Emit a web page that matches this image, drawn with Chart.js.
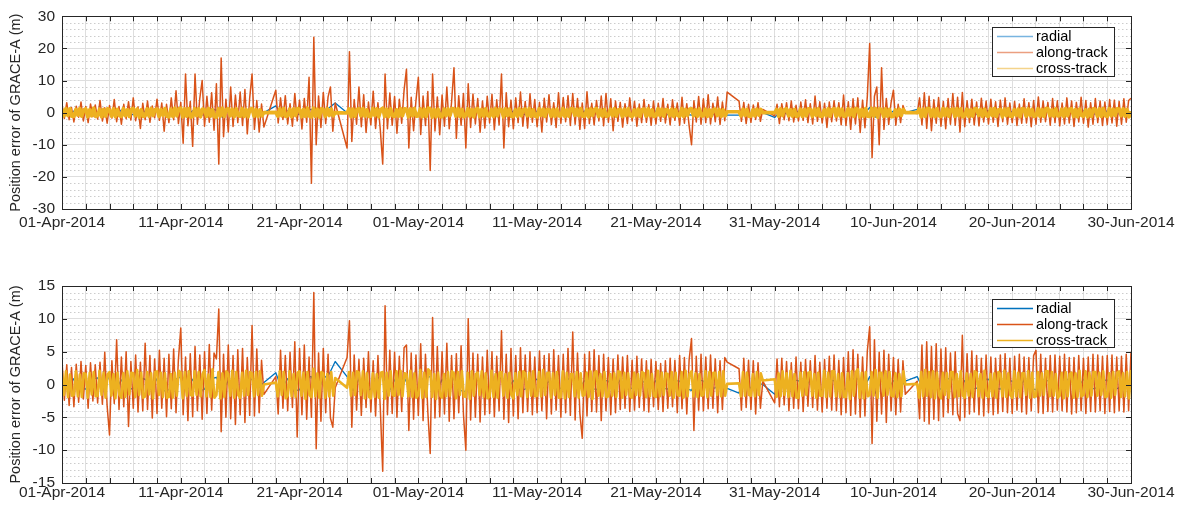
<!DOCTYPE html>
<html>
<head>
<meta charset="utf-8">
<title>GRACE-A position error</title>
<script src="https://cdn.jsdelivr.net/npm/chart.js@4.4.1/dist/chart.umd.min.js"></script>
<style>
  html, body { margin: 0; padding: 0; background: #fff; }
  body { width: 1183px; height: 508px; position: relative; overflow: hidden; }
  .panel { position: absolute; left: 0; width: 1183px; }
  #topPanel { top: 0; height: 240px; }
  #botPanel { top: 260px; height: 248px; }
</style>
</head>
<body>
<div class="panel" id="topPanel"><canvas id="topCanvas"></canvas></div>
<div class="panel" id="botPanel"><canvas id="botCanvas"></canvas></div>
<script>
// x axis: days since 01-Apr-2014, labelled every 10 days
const dateLabels = [
  "01-Apr-2014", "11-Apr-2014", "21-Apr-2014", "01-May-2014", "11-May-2014",
  "21-May-2014", "31-May-2014", "10-Jun-2014", "20-Jun-2014", "30-Jun-2014",
];
const seriesNames = ["radial", "along-track", "cross-track"];
const yTitle = "Position error of GRACE-A (m)";

// samples per day of each series (null = no data, line bridges the gap)
const ALONG_PER_DAY = 5;
const CROSS_PER_DAY = 6;
const RADIAL_PER_DAY = 2;

// ---- top panel (m) ----
const alongTop = [
  2.5, -1.8, 3.1, -2.2, 1.6, -2.9, 2.0, -1.4, 3.3, -2.6,
  1.9, -3.1, 2.7, -1.2, 2.4, -2.0, 3.8, -2.6, 1.5, -3.3,
  2.2, -1.7, 4.1, -2.8, 1.9, -3.6, 2.6, -1.9, 3.4, -2.3,
  4.6, -2.5, 1.8, -4.9, 2.9, -2.2, 3.6, -3.0, 2.1, -1.6,
  4.2, -2.4, 3.0, -5.8, 2.6, -3.1, 4.6, -2.2, 6.8, -3.4,
  3.2, -9.5, 12.0, -4.1, 3.5, -10.5, 12.0, -3.6, 4.4, 10.0,
  -4.2, 5.1, -3.0, 6.2, -5.5, 9.0, -16.0, 17.0, -7.5, 4.2,
  -6.0, 8.0, -4.3, 5.5, -3.1, 6.4, -4.0, 7.2, -6.6, 4.5,
  12.0, -5.2, 3.8, -6.0, 2.7, -4.5, null, null, null, null,
  7.0, -3.2, 4.6, -2.1, 5.3, -3.5, 2.8, -4.2, 6.0, -2.6,
  3.9, -5.1, 4.4, -3.0, 11.0, -22.0, 23.5, -10.0, 5.2, -4.6,
  6.3, -3.4, 4.9, 8.0, -5.8, 3.0, null, null, null, null,
  -11.0, 19.0, -9.0, 4.1, -3.6, 8.0, -4.4, 5.6, -6.2, 3.3,
  -3.8, 6.7, -4.9, 3.1, -5.4, -16.0, 12.0, -5.0, 6.1, -3.9,
  5.0, -6.4, 4.2, -3.3, 7.0, 13.5, -11.0, 4.8, -5.6, 3.7,
  11.0, -6.8, 5.2, -4.0, 6.6, -18.0, 12.0, -5.7, 4.9, -6.9,
  5.5, -4.2, 8.0, -5.0, 3.4, 14.0, -8.0, 5.3, -3.9, 6.0,
  -11.0, 9.0, -4.6, 5.8, -3.5, 4.4, -6.1, 3.6, -4.8, 5.1,
  -3.2, 5.7, -5.3, 4.0, -3.8, 12.0, -11.0, 6.2, -4.4, 3.9,
  -5.0, 4.6, -3.1, 6.4, -4.2, 3.5, -4.8, 5.9, -3.0, 4.1,
  -4.4, 3.2, -6.0, 4.5, -2.9, 5.6, -3.7, 3.1, -4.6, 6.2,
  -3.3, 4.7, -2.8, 5.3, -4.0, 6.0, -3.6, 4.4, -5.2, 3.0,
  -4.9, 6.5, -3.4, 2.9, -3.8, 3.8, -2.6, 5.2, -4.1, 6.0,
  -3.0, 4.3, -5.6, 3.6, -2.7, 3.2, -4.5, 2.8, -3.4, 4.6,
  -2.6, 3.5, -4.2, 2.7, -3.1, 4.1, -3.0, 2.5, -3.9, 3.6,
  -3.5, 2.9, -2.7, 4.4, -3.2, 2.6, -3.8, 4.0, -2.4, 3.0,
  -3.9, 4.8, -3.3, 2.8, -4.1, -10.0, 3.7, -2.9, 5.0, -3.6,
  4.3, -3.1, 5.6, -3.5, 2.9, -2.8, 4.9, -3.7, 3.3, -2.5,
  6.4, null, null, null, null, 3.6, -2.7, 3.2, -3.4, 2.6,
  -3.0, 2.4, -2.1, 3.1, -2.7, 1.0, null, null, null, null,
  -1.0, 2.6, -3.4, 2.8, -2.2, 3.1, -2.5, 3.6, -2.9, 2.3,
  -2.6, 3.3, -2.4, 4.0, -3.1, 2.8, -3.5, 5.2, -2.7, 3.4,
  -3.2, 2.9, -4.6, 3.3, -2.8, 3.7, -2.6, 3.1, -3.8, 5.5,
  -4.0, 3.4, -5.2, 4.3, -3.5, 4.6, -6.2, 3.9, -4.7, 5.0,
  21.5, -14.0, 5.1, 8.0, -10.0, 14.0, -5.2, 4.4, -3.7, 3.1,
  7.0, -3.9, 2.6, -3.1, 2.2, 0.2, null, null, null, null,
  -0.3, 4.6, -3.8, 6.2, -4.9, 5.1, -5.6, 4.0, -3.3, 4.7,
  -4.2, 3.5, -5.0, 4.4, -3.6, 6.0, -3.9, 4.8, -6.0, 6.3,
  -4.4, 3.7, -3.1, 4.2, -3.8, 3.3, -4.1, 4.5, -2.9, 3.6,
  -3.5, 4.2, -3.0, 3.4, -4.3, 3.9, -2.8, 4.6, -3.6, 3.0,
  -3.1, 3.5, -4.0, 2.7, -3.3, 4.3, -3.2, 3.1, -4.4, 3.8,
  -3.6, 4.9, -3.0, 3.6, -2.8, 3.2, -3.9, 4.4, -3.1, 3.7,
  -4.1, 3.0, -3.5, 4.6, -3.2, 3.6, -4.3, 3.2, -2.9, 4.8,
  -3.3, 3.8, -4.5, 3.1, -3.6, 4.4, -3.1, 3.6, -4.0, 3.3,
  -3.7, 4.1, -3.2, 3.9, -4.2, 3.5, -3.6, 4.3, -3.0, 3.8,
  4.5,
];
const crossTop = [
  1.1, -1.0, 1.3, -0.9, 1.2, -1.1, -1.2, 1.0, -0.8, 1.3, -1.1, 0.9,
  1.2, -1.3, 0.9, -1.0, 1.4, -1.2, -0.9, 1.1, -1.3, 1.0, -1.1, 1.2,
  0.8, -1.1, 1.2, -1.3, 1.0, -0.9, -1.2, 1.3, -1.0, 0.9, -1.2, 1.1,
  1.3, -1.0, 1.1, -1.4, 0.9, -1.2, -1.0, 1.2, -1.1, 1.3, -0.9, 1.0,
  1.1, -1.2, 1.0, -0.9, 1.3, -1.1, -1.3, 1.1, -1.2, 1.4, -1.0, 1.2,
  1.4, -1.3, 1.2, -1.1, 1.3, -1.4, -1.2, 1.3, -1.0, 1.2, -1.3, 1.1,
  1.0, -1.2, 1.3, -1.1, 0.9, -1.3, -1.4, 1.2, -1.1, 1.4, -1.2, 1.0,
  1.2, -1.0, 1.1, -1.3, 1.2, -0.9, -1.1, 1.3, -1.2, 1.0, -1.3, 1.1,
  1.3, -1.1, 1.0, -1.2, 0.9, -1.0, 0.0, null, null, null, null, null,
  0.1, -1.1, 1.2, -1.0, 1.3, -1.2, -1.0, 1.1, -1.3, 1.2, -0.9, 1.3,
  1.1, -1.3, 1.0, -1.2, 1.4, -1.1, -1.3, 1.4, -1.2, 1.1, -1.4, 1.2,
  1.0, -1.2, 1.3, -0.9, 1.1, -1.0, 0.0, null, null, null, null, null,
  -0.1, 1.2, -1.3, 1.1, -1.2, 1.0, 1.2, -1.0, 1.3, -1.1, 0.9, -1.2,
  -1.1, 1.3, -0.9, 1.2, -1.3, 1.0, 1.4, -1.2, 1.1, -1.3, 1.2, -1.0,
  -1.2, 0.9, -1.1, 1.3, -1.0, 1.2, 1.1, -1.3, 1.2, -1.0, 1.3, -1.1,
  -1.0, 1.2, -1.3, 1.1, -1.2, 1.4, 1.2, -1.4, 1.0, -1.3, 1.1, -1.2,
  -1.3, 1.1, -1.0, 1.2, -0.9, 1.3, 1.2, -1.1, 1.3, -1.2, 1.0, -1.3,
  -0.9, 1.2, -1.1, 1.0, -1.3, 1.1, 1.3, -1.2, 1.0, -1.1, 1.2, -0.9,
  -1.1, 1.0, -1.2, 1.3, -1.0, 1.1, 1.0, -1.3, 1.2, -0.9, 1.1, -1.2,
  -1.2, 0.9, -1.1, 1.2, -1.0, 1.0, 1.1, -1.0, 1.3, -1.2, 0.9, -1.1,
  -1.3, 1.2, -0.9, 1.1, -1.2, 1.0, 0.9, -1.1, 1.0, -1.2, 1.1, -1.0,
  -1.0, 1.3, -1.2, 0.9, -1.1, 1.2, 1.2, -0.9, 1.1, -1.0, 1.3, -1.1,
  -1.1, 1.0, -1.3, 1.2, -0.9, 1.1, 1.3, -1.2, 0.9, -1.1, 1.0, -1.2,
  -0.9, 1.1, -1.0, 1.2, -1.1, 0.9, 1.0, -1.2, 1.1, -0.9, 1.2, -1.0,
  -1.2, 0.9, -1.0, 1.1, -1.2, 1.0, 1.1, -1.1, 1.2, -1.0, 0.9, -1.2,
  -1.0, 1.2, -0.9, 1.1, -1.1, 1.0, 0.9, -1.0, 1.1, -1.2, 1.0, -0.9,
  -1.1, 1.3, -1.2, 1.0, -0.9, 1.1, 1.2, -1.0, 0.9, -1.1, 1.2, -1.0,
  -1.0, 1.1, -1.2, 0.9, -1.1, 1.0, 1.1, -0.9, 1.0, -1.2, 0.9, -1.0,
  0.3, null, null, null, null, null, 0.3, -1.0, 1.1, -0.9, 1.0, -1.1,
  -1.1, 0.9, -1.0, 1.1, -0.8, 1.0, 0.0, null, null, null, null, null,
  0.0, 1.0, -1.1, 1.2, -0.9, 1.0, 1.2, -1.0, 0.9, -1.1, 1.0, -1.2,
  -0.9, 1.1, -1.2, 1.0, -1.0, 1.2, 1.0, -1.2, 1.1, -0.9, 1.2, -1.1,
  -1.1, 0.9, -1.0, 1.2, -1.1, 1.0, 1.2, -1.1, 1.3, -1.0, 1.1, -1.2,
  -1.0, 1.2, -0.9, 1.1, -1.2, 1.3, 1.1, -1.3, 1.0, -1.2, 1.3, -1.1,
  -1.2, 1.4, -1.1, 1.3, -1.4, 1.2, 1.0, -1.2, 1.2, -1.1, 1.0, -1.3,
  -1.1, 0.9, -1.0, 1.1, -0.9, 1.0, 0.0, null, null, null, null, null,
  0.0, 1.2, -1.3, 1.1, -1.2, 1.3, 1.3, -1.1, 1.0, -1.3, 1.2, -1.0,
  -1.2, 1.3, -1.0, 1.2, -1.1, 1.0, 1.1, -1.2, 1.3, -1.0, 1.2, -1.3,
  -1.0, 1.1, -1.2, 0.9, -1.1, 1.2, 1.2, -0.9, 1.0, -1.2, 1.1, -1.0,
  -1.1, 1.2, -1.0, 1.3, -1.2, 0.9, 1.0, -1.3, 1.1, -1.0, 1.2, -1.1,
  -1.2, 1.0, -0.9, 1.1, -1.3, 1.2, 1.1, -1.1, 1.2, -0.9, 1.0, -1.2,
  -1.0, 1.2, -1.1, 1.0, -1.2, 1.3, 1.3, -1.0, 0.9, -1.1, 1.2, -1.0,
  -0.9, 1.1, -1.2, 1.3, -1.0, 1.1, 1.2, -1.2, 1.0, -1.3, 1.1, -0.9,
  -1.1, 0.9, -1.3, 1.0, -1.2, 1.2, 1.0, -1.1, 1.2, -1.2, 1.3, -1.0,
  -1.2, 1.3, -1.0, 1.1, -0.9, 1.2, 1.1, -1.0, 1.2, -1.1, 1.0, -1.3,
  0.4,
];
const radialTop = [
  0.4, -0.6, 0.5, -0.3, 0.7, -0.5, -0.4, 0.6, 0.3, -0.7,
  0.8, -0.4, -0.6, 0.5, 0.4, -0.5, 0.9, -0.6, -0.5, 0.7,
  1.5, -1.0, 0.6, -0.8, -0.7, 1.2, 0.8, -1.5, 0.5, -0.6,
  -0.9, 0.7, 0.6, -0.5, 0.0, null, 2.1, -0.4, 0.6, -0.7,
  -0.5, 0.8, 1.0, -1.2, 0.7, 1.5, 3.0, null, 0.0, -0.7,
  0.8, -0.5, -0.6, 0.9, 1.2, -1.0, 0.5, -0.8, 0.9, -0.6,
  -0.7, 1.1, 0.6, -1.3, 0.8, -0.5, 1.0, -0.7, -0.9, 0.6,
  0.5, -0.6, -0.4, 0.7, 0.9, -0.8, 0.5, -0.4, -0.6, 0.5,
  0.4, -0.5, 0.6, -0.3, -0.5, 0.4, 0.3, -0.6, 0.5, -0.4,
  -0.3, 0.6, 0.4, -0.5, 0.6, -0.3, -0.4, 0.5, 0.3, -0.6,
  0.5, -0.4, -0.6, 0.3, 0.4, -0.5, -0.8, 0.6, 0.3, -0.5,
  -0.6, -0.7, -0.8, null, -0.8, 0.4, -0.5, 0.6, 0.0, null,
  -1.5, 0.5, -0.4, 0.6, 0.3, -0.5, 0.5, -0.4, -0.6, 0.4,
  0.5, -0.3, -0.4, 0.6, 0.7, -0.5, 1.6, -1.4, 0.9, -0.7,
  0.5, -0.4, 0.0, null, 1.0, -0.5, 0.6, -0.4, -0.5, 0.6,
  0.7, -0.9, 0.4, -0.6, -0.5, 0.4, 0.6, -0.3, -0.4, 0.5,
  0.3, -0.6, 0.5, -0.4, -0.6, 0.5, 0.4, -0.3, -0.5, 0.6,
  0.3, -0.4, 0.6, -0.5, -0.4, 0.3, 0.5, -0.6, -0.3, 0.4,
  0.2,
];

// ---- bottom panel (m) ----
const alongBot = [
  3.6, -2.4, 3.0, -3.2, 2.6, -3.4, 3.1, -2.7, 3.5, -2.2,
  2.9, -3.6, 3.3, -2.5, 3.0, -2.8, 3.4, -3.0, 4.9, -3.3,
  -7.7, 3.6, -2.9, 6.8, -3.8, 4.2, -3.4, 5.0, -6.4, 3.5,
  -3.6, 4.5, -4.2, 3.4, -4.0, 6.3, -3.8, 4.4, -5.1, 3.9,
  -4.4, 5.2, -3.6, 4.0, -4.9, 4.6, -3.7, 5.4, -4.3, 3.8,
  8.6, -4.6, 4.2, -5.5, 4.7, -4.9, 5.8, -4.0, 4.5, -5.3,
  5.0, -4.4, 6.1, -3.9, 4.8, 3.9, 11.5, -7.2, 4.6, -5.0,
  6.0, -5.2, 4.4, -6.1, 5.3, -4.6, 5.5, -5.8, 4.1, -4.7,
  9.0, -4.8, 5.4, -4.3, 3.7, -1.5, null, null, null, null,
  1.2, -4.5, 5.2, -3.6, 4.4, -4.0, 4.9, -3.5, 6.5, -8.0,
  5.5, -4.6, 6.0, -5.3, 4.2, -5.0, 14.0, -9.8, 4.8, -5.6,
  5.5, -4.3, 4.6, -5.1, -6.5, -0.5, null, null, null, null,
  4.1, 9.7, -6.5, 4.5, -3.9, 3.8, -4.7, 4.0, -3.5, 5.0,
  -4.2, 3.6, -4.8, 4.4, -3.7, -13.2, 12.0, -4.6, 5.2, -4.4,
  4.9, -5.0, 4.3, -4.1, 5.6, 6.0, -7.0, 4.8, -5.3, 4.5,
  -4.7, 6.2, -5.5, 4.6, -4.2, -10.5, 10.2, -5.1, 5.8, -4.9,
  5.0, -4.5, 6.3, -5.6, 4.4, -5.2, 4.7, -4.3, 5.9, -4.6,
  -10.0, 10.0, -5.4, 4.8, -5.0, 4.6, -5.7, 4.2, -4.6, 5.2,
  -4.4, 5.0, -4.9, 4.3, -4.0, 8.2, -5.3, 4.6, -5.8, 5.5,
  -4.8, 4.4, -5.2, 5.6, -4.3, 4.5, -4.1, 5.0, -4.6, 4.2,
  -4.3, 5.1, -4.0, 4.4, -5.2, 4.7, -4.5, 5.3, -3.9, 4.4,
  -5.0, 4.6, -4.3, 5.5, -4.7, 8.0, -5.4, 4.8, -4.4, -8.2,
  4.6, -4.8, 5.0, -4.1, 5.3, -4.2, 4.4, -5.5, 4.6, -4.0,
  4.1, -4.6, 3.9, -4.3, 4.5, -3.8, 4.2, -3.6, 4.4, -4.1,
  3.7, -3.9, 4.3, -3.5, 3.9, -4.0, 3.6, -4.2, 3.8, -3.4,
  3.5, -3.8, 3.2, -4.1, 3.6, -3.6, 4.0, -3.4, 3.7, -4.3,
  4.4, -3.7, 4.1, -4.5, 3.8, 7.0, -7.0, 4.3, -3.9, 4.6,
  -4.0, 4.2, -3.7, 4.5, -3.6, 3.9, -4.3, 3.6, -3.8, 4.1,
  3.4, null, null, null, null, 2.4, -3.9, 4.0, -3.5, 3.7,
  -3.8, 3.6, -4.5, 3.3, -3.6, 0.5, null, null, null, null,
  -2.8, 3.9, -3.4, 4.0, -3.1, 3.5, -4.0, 3.3, -3.6, 4.2,
  -3.7, 3.4, -4.1, 3.8, -3.3, 3.6, -3.5, 4.4, -3.9, 3.4,
  -4.2, 3.8, -3.6, 4.3, -3.9, 4.5, -4.0, 3.7, -4.6, 4.1,
  -4.3, 5.0, -4.7, 5.3, -4.5, 4.6, -5.0, 4.2, -4.8, 5.1,
  8.8, -9.0, 6.8, -5.6, 4.9, -4.5, 5.2, -5.8, 4.6, -4.0,
  4.1, -4.6, 3.8, -4.2, 3.6, -1.5, null, null, null, null,
  0.5, -5.2, 6.0, -5.6, 6.5, -6.0, 5.8, -5.3, 6.2, -5.5,
  5.4, -4.9, 5.6, -4.3, 4.8, -4.6, 5.0, -4.4, -5.5, 7.5,
  -5.0, 4.7, -4.5, 5.1, -4.2, 4.4, -4.6, 4.0, -4.8, 4.5,
  -4.3, 4.2, -4.6, 4.0, -4.4, 4.5, -4.1, 4.7, -4.3, 4.0,
  -4.4, 4.3, -3.9, 4.6, -4.2, 4.2, -4.5, 4.1, -4.0, 4.4,
  5.2, -4.3, 4.6, -4.4, 4.0, -4.1, 4.4, -4.2, 4.5, -3.9,
  4.3, -4.0, 4.6, -4.2, 4.1, -4.5, 4.1, -4.3, 4.4, -4.0,
  4.0, -4.4, 4.2, -4.1, 4.6, -4.2, 4.5, -4.0, 4.3, -4.4,
  4.4, -4.1, 4.5, -4.3, 4.2, -4.0, 4.3, -4.2, 4.6, -4.0,
  5.0,
];
const crossBot = [
  1.8, -1.6, 2.0, -1.9, 1.5, -1.7, -1.6, 2.0, -1.8, 1.5, -1.9, 1.7,
  1.6, -2.0, 1.8, -1.5, 1.9, -1.8, -1.7, 2.1, -1.6, 1.8, -2.0, 1.5,
  1.9, -1.7, 1.6, -2.1, 1.8, -1.6, -2.0, 1.7, -1.9, 2.0, -1.5, 1.8,
  1.7, -1.9, 2.2, -1.6, 1.8, -2.0, -1.8, 1.9, -1.5, 1.7, -2.1, 1.9,
  2.0, -1.6, 1.8, -1.9, 1.7, -2.0, -1.9, 1.6, -2.0, 1.8, -1.7, 2.1,
  1.8, -2.1, 1.9, -1.7, 2.0, -1.6, -1.7, 2.0, -1.6, 1.9, -1.8, 1.6,
  2.2, -1.8, 1.5, -1.9, 2.3, -2.0, -1.6, 1.9, -2.1, 1.7, -1.9, 2.0,
  1.6, -1.7, 2.1, -2.0, 1.9, -1.6, -2.0, 1.8, -1.7, 2.1, -1.6, 1.9,
  1.7, -1.8, 1.9, -1.6, 2.0, -1.7, 0.0, null, null, null, null, null,
  0.3, -1.8, 2.0, -1.6, 1.9, -2.1, -1.7, 2.0, -1.8, 1.6, -1.9, 1.8,
  2.0, -1.7, 1.8, -2.2, 1.9, -1.6, -1.9, 2.4, -1.8, 1.7, -2.0, 1.9,
  1.7, -2.0, 1.6, -1.8, 1.9, -1.7, 1.0, null, null, null, null, null,
  -0.5, 1.9, -1.7, 1.8, -1.6, 2.0, 1.8, -1.6, 2.0, -2.1, 1.7, -1.9,
  -2.1, 1.7, -1.9, 1.6, -2.0, 1.8, 1.9, -2.2, 1.8, -1.7, 2.0, -1.6,
  -1.7, 2.0, -1.6, 2.1, -1.8, 1.7, 1.6, -1.8, 2.1, -1.9, 1.7, -2.0,
  -1.6, 2.2, -2.0, 1.8, -1.9, 2.3, 2.0, -1.9, 1.6, -2.2, 1.8, -1.7,
  -2.0, 1.6, -1.8, 1.9, -1.7, 2.0, 1.7, -2.1, 1.9, -1.6, 2.0, -1.8,
  -1.9, 1.8, -2.2, 2.0, -1.7, 1.6, 1.8, -1.6, 2.0, -1.9, 1.7, -2.1,
  -1.8, 2.1, -1.9, 1.6, -2.0, 1.8, 1.9, -1.7, 1.6, -2.0, 1.8, -1.6,
  -2.1, 1.7, -1.6, 1.9, -1.8, 2.0, 1.7, -1.9, 1.8, -1.7, 2.0, -1.8,
  -1.7, 1.9, -1.8, 2.2, -1.6, 1.7, 1.8, -2.0, 1.7, -1.6, 1.9, -2.0,
  -1.9, 2.0, -2.1, 1.8, -1.9, 1.6, 1.6, -1.8, 1.9, -2.0, 1.7, -1.7,
  -1.6, 1.8, -1.9, 2.0, -2.2, 1.8, 2.0, -1.7, 1.6, -1.8, 1.9, -1.9,
  -1.8, 1.6, -1.7, 1.7, -1.9, 2.0, 1.9, -2.0, 1.8, -1.6, 1.7, -1.8,
  -2.0, 1.8, -1.6, 1.6, -1.7, 1.9, 1.7, -1.9, 2.1, -1.8, 1.6, -1.7,
  -1.9, 2.1, -1.8, 1.8, -1.6, 1.7, 1.6, -1.7, 1.9, -2.0, 1.8, -1.6,
  -1.7, 1.9, -2.0, 2.1, -1.8, 1.6, 2.0, -1.8, 1.7, -1.9, 1.6, -1.7,
  -1.6, 2.0, -1.9, 1.9, -1.7, 1.8, 1.8, -1.6, 1.9, -1.8, 2.0, -1.7,
  0.1, null, null, null, null, null, 0.2, -1.8, 1.9, -1.7, 1.8, -1.6,
  -1.7, 1.6, -1.8, 1.9, -1.6, 1.7, 0.6, null, null, null, null, null,
  0.8, -1.9, 1.7, -1.8, 2.0, -1.6, 1.7, -1.9, 2.1, -1.8, 1.6, -2.0,
  -2.0, 1.8, -1.7, 1.9, -1.6, 1.8, 1.9, -1.7, 1.6, -2.0, 1.8, -1.7,
  -1.7, 2.1, -1.9, 1.8, -1.8, 2.0, 2.0, -1.8, 1.6, -1.9, 1.7, -1.9,
  -1.9, 1.7, -2.2, 2.0, -1.7, 1.9, 2.3, -2.0, 1.8, -2.1, 1.9, -1.8,
  -1.6, 1.9, -1.7, 2.2, -2.0, 1.8, 1.8, -1.7, 2.0, -1.6, 1.9, -1.7,
  -1.8, 1.7, -1.9, 1.6, -1.8, 2.0, 0.0, null, null, null, null, null,
  0.1, -2.0, 1.9, -1.8, 2.2, -1.7, 1.9, -1.9, 2.0, -2.1, 1.8, -1.6,
  -2.1, 1.8, -1.6, 1.7, -2.0, 1.9, 1.9, -1.9, 1.6, -1.8, 2.0, -1.7,
  -2.0, 1.7, -1.7, 1.6, -1.9, 2.0, 1.8, -1.8, 1.6, -2.0, 2.1, -1.7,
  -1.9, 1.6, -1.8, 1.7, -2.0, 1.9, 1.6, -1.8, 2.1, -1.9, 1.7, -1.6,
  -2.0, 2.0, -1.8, 1.8, -1.9, 1.7, 1.7, -1.6, 2.0, -2.0, 1.8, -1.9,
  -1.8, 1.9, -1.7, 1.7, -1.6, 2.0, 2.0, -1.8, 1.9, -1.7, 1.6, -2.0,
  -1.7, 1.8, -2.1, 1.9, -1.8, 1.6, 1.8, -2.0, 1.7, -1.9, 2.1, -1.8,
  -1.6, 2.0, -1.9, 1.8, -1.7, 1.9, 1.9, -1.7, 1.8, -1.6, 2.0, -1.9,
  -1.8, 1.7, -2.0, 1.9, -1.6, 1.8, 2.0, -1.9, 1.7, -1.8, 1.9, -2.1,
  2.2,
];
const radialBot = [
  0.6, -0.8, 0.9, -0.5, -0.7, 0.8, 1.0, -0.6, 1.4, -0.9,
  0.7, -0.8, -0.6, 1.0, 0.8, -0.7, 0.9, -1.0, -0.8, 0.7,
  1.2, -0.9, 0.8, -1.1, -0.7, 0.9, 1.1, -1.0, 0.6, -0.8,
  -0.9, 0.7, 0.8, -0.6, 0.3, null, 1.8, -0.7, 0.9, -1.0,
  -0.8, 1.1, 1.2, -1.1, 0.9, 1.6, 3.5, null, 1.2, -0.9,
  0.8, -1.0, -0.7, 0.9, 1.3, -1.2, 0.7, -0.9, 1.0, -0.8,
  -0.9, 1.1, 1.2, -1.3, 0.8, -0.7, 1.0, -0.9, -1.1, 0.9,
  0.7, -0.8, -0.6, 0.9, 1.0, -0.7, 0.6, -0.8, -0.7, 0.6,
  0.8, -0.5, 0.5, -0.7, -0.6, 0.8, 0.9, -0.7, 0.6, -0.5,
  -0.8, 0.7, 0.5, -0.6, 0.7, -0.5, -0.6, 0.5, 0.4, -0.7,
  0.6, -0.5, -0.7, 0.6, 0.5, -0.6, -0.9, 0.8, 0.5, -0.6,
  -0.5, 0.4, -0.6, null, -1.3, 0.5, -0.6, 0.3, 0.0, null,
  -1.5, 0.6, -0.5, 0.7, 0.6, -0.6, 0.7, -0.5, -0.8, 0.6,
  0.6, -0.7, -0.7, 0.8, 0.9, -0.6, 1.2, -1.3, 0.8, -0.9,
  0.6, -0.5, 0.5, null, 1.2, -0.7, 0.8, -0.6, -0.7, 0.9,
  0.8, -1.2, 0.6, -0.7, -0.6, 0.7, 0.8, -0.5, -0.7, 0.6,
  0.5, -0.8, 0.7, -0.6, -0.8, 0.7, 0.6, -0.5, -0.7, 0.8,
  0.5, -0.6, 0.8, -0.7, -0.6, 0.5, 0.7, -0.8, -0.5, 0.6,
  0.4,
];

const FONT = "'Liberation Sans', Arial, Helvetica, sans-serif";
const AXIS_COLOR = "#262626";
const COLORS = ["#0072BD", "#D95319", "#EDB120"]; // MATLAB default order

const toPoints = (vals, perDay) => vals.map((v, i) => ({ x: i / perDay, y: v }));

// dotted minor grid, axes box and inward tick marks (MATLAB look)
const frame = {
  id: "frame",
  beforeDatasetsDraw(chart, args, opts) {
    const { ctx, chartArea: a, scales: { y } } = chart;
    ctx.save();
    ctx.strokeStyle = "#cccccc";
    ctx.lineWidth = 1;
    ctx.setLineDash([1.5, 2.5]);
    for (let v = y.min; v <= y.max; v += opts.minorStep) {
      if (v % opts.majorStep === 0) continue;
      const py = Math.round(y.getPixelForValue(v)) + 0.5;
      ctx.beginPath();
      ctx.moveTo(a.left, py);
      ctx.lineTo(a.right, py);
      ctx.stroke();
    }
    ctx.restore();
  },
  afterDatasetsDraw(chart) {
    const { ctx, chartArea: a, scales: { x, y } } = chart;
    ctx.save();
    ctx.strokeStyle = AXIS_COLOR;
    ctx.lineWidth = 1;
    ctx.beginPath();
    x.ticks.forEach((t) => {
      const px = Math.round(x.getPixelForValue(t.value)) + 0.5;
      ctx.moveTo(px, a.bottom); ctx.lineTo(px, a.bottom - 5);
      ctx.moveTo(px, a.top); ctx.lineTo(px, a.top + 5);
    });
    y.ticks.forEach((t) => {
      const py = Math.round(y.getPixelForValue(t.value)) + 0.5;
      ctx.moveTo(a.left, py); ctx.lineTo(a.left + 5, py);
      ctx.moveTo(a.right, py); ctx.lineTo(a.right - 5, py);
    });
    ctx.stroke();
    ctx.strokeRect(Math.round(a.left) + 0.5, Math.round(a.top) + 0.5,
      Math.round(a.width), Math.round(a.height));
    ctx.restore();
  },
};

// legend box in the upper right corner of the axes
const boxLegend = {
  id: "boxLegend",
  afterDraw(chart, args, opts) {
    const { ctx, chartArea: a } = chart;
    const w = 122, h = opts.height;
    const x0 = Math.round(a.right) - 17 - w;
    const y0 = Math.round(a.top) + opts.top;
    ctx.save();
    ctx.fillStyle = "#fff";
    ctx.fillRect(x0, y0, w, h);
    ctx.strokeStyle = AXIS_COLOR;
    ctx.lineWidth = 1;
    ctx.strokeRect(x0 + 0.5, y0 + 0.5, w, h);
    ctx.font = "14.5px " + FONT;
    ctx.textBaseline = "middle";
    chart.data.datasets.forEach((ds, i) => {
      const yy = y0 + 9.5 + i * 16;
      ctx.strokeStyle = opts.colors[i];
      ctx.lineWidth = 1.5;
      ctx.beginPath();
      ctx.moveTo(x0 + 5, yy);
      ctx.lineTo(x0 + 41, yy);
      ctx.stroke();
      ctx.fillStyle = "#000";
      ctx.fillText(ds.label, x0 + 44, yy + 0.5);
    });
    ctx.restore();
  },
};

function makePanel(canvasId, cfg) {
  const line = (i, vals, perDay, extra) => Object.assign({
    label: seriesNames[i],
    data: toPoints(vals, perDay),
    borderColor: COLORS[i],
    borderWidth: 1,
    pointRadius: 0,
    tension: 0,
    spanGaps: true,
    borderJoinStyle: "round",
  }, extra);

  // lower order is painted last: radial at the back, cross-track in front
  return new Chart(document.getElementById(canvasId), {
    type: "line",
    data: {
      datasets: [
        line(0, cfg.radial, RADIAL_PER_DAY, { order: 3, borderWidth: 1.3 }),
        line(1, cfg.along, ALONG_PER_DAY, { order: 2, borderWidth: 1.5 }),
        line(2, cfg.cross, CROSS_PER_DAY, { order: 1, borderWidth: cfg.crossWidth }),
      ],
    },
    plugins: [frame, boxLegend],
    options: {
      responsive: true,
      maintainAspectRatio: false,
      animation: false,
      events: [],
      layout: { padding: { top: cfg.padTop, right: 52, bottom: 0, left: 0 } },
      plugins: {
        legend: { display: false },
        tooltip: { enabled: false },
        frame: { minorStep: cfg.minorStep, majorStep: cfg.step },
        boxLegend: { top: cfg.legendTop, height: cfg.legendHeight, colors: cfg.legendColors },
      },
      scales: {
        x: {
          type: "linear",
          min: 0,
          max: 90,
          afterFit: (s) => { s.height = cfg.xAxisHeight; },
          border: { display: false },
          grid: { color: "#dedede", drawTicks: false },
          ticks: {
            stepSize: 2,
            autoSkip: false,
            maxRotation: 0,
            padding: cfg.xLabelPad,
            color: AXIS_COLOR,
            font: { family: FONT, size: 15.5 },
            callback: (v) => (v % 10 === 0 ? dateLabels[v / 10] : ""),
          },
        },
        y: {
          min: -cfg.yMax,
          max: cfg.yMax,
          afterFit: (s) => { s.width = 62; },
          border: { display: false },
          grid: { color: "#dedede", drawTicks: false },
          ticks: {
            stepSize: cfg.step,
            padding: 7,
            color: AXIS_COLOR,
            font: { family: FONT, size: 15.5 },
          },
          title: {
            display: true,
            text: yTitle,
            color: AXIS_COLOR,
            font: { family: FONT, size: 14.5 },
            padding: { top: 7, bottom: 0 },
          },
        },
      },
    },
  });
}

makePanel("topCanvas", {
  radial: radialTop, along: alongTop, cross: crossTop,
  yMax: 30, step: 10, minorStep: 2, crossWidth: 3.6,
  padTop: 12, xAxisHeight: 31, xLabelPad: 4,
  legendTop: 11, legendHeight: 49,
  legendColors: ["#78b4e0", "#eb9f80", "#f4d38a"],
});

makePanel("botCanvas", {
  radial: radialBot, along: alongBot, cross: crossBot,
  yMax: 15, step: 5, minorStep: 1, crossWidth: 2.6,
  padTop: 26, xAxisHeight: 25, xLabelPad: 0,
  legendTop: 13, legendHeight: 48,
  legendColors: COLORS,
});
</script>
</body>
</html>
